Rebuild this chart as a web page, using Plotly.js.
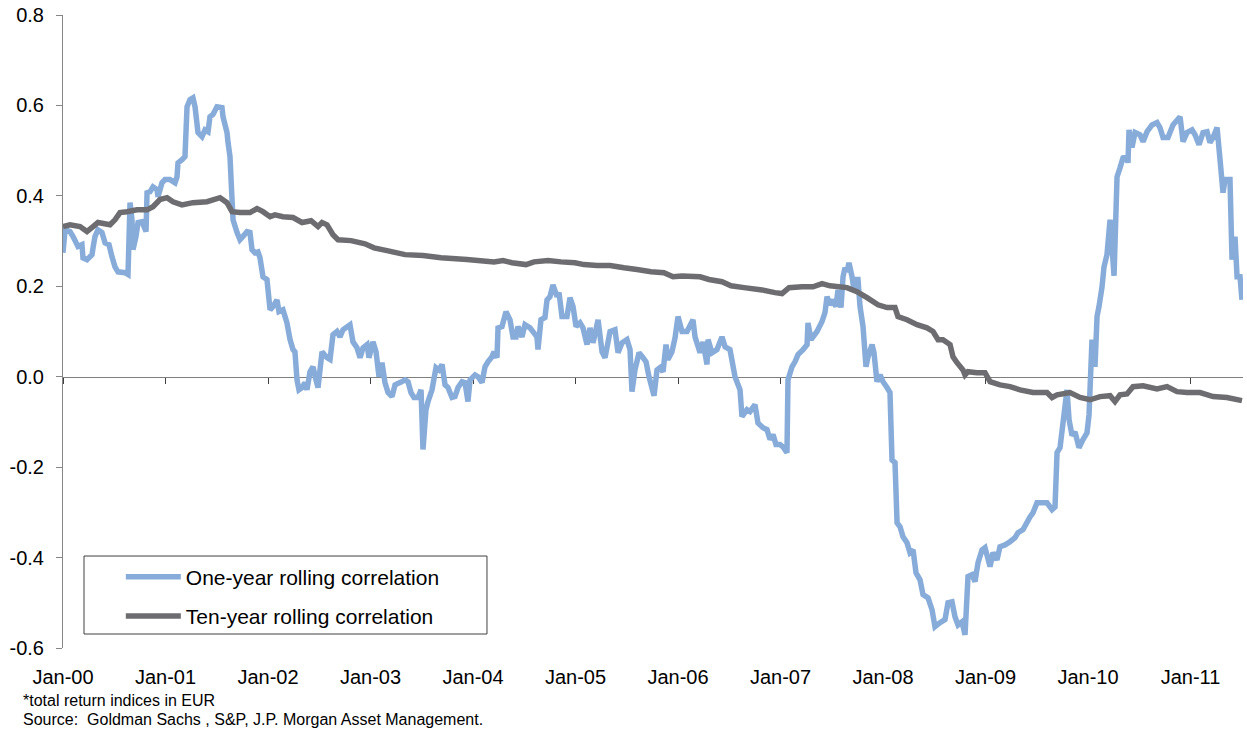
<!DOCTYPE html>
<html>
<head>
<meta charset="utf-8">
<script src="https://cdn.plot.ly/plotly-3.0.1.min.js"></script>
<style>html,body{margin:0;padding:0;background:#fff;}#chart{width:1247px;height:732px;}</style>
</head>
<body>
<div id="chart"></div>
<script>
// Time in decimal years
var oneYearT = [2000.000,2000.020,2000.068,2000.098,2000.146,2000.185,2000.195,2000.234,2000.283,2000.293,2000.312,2000.341,2000.380,2000.410,2000.449,2000.478,2000.507,2000.537,2000.605,2000.634,2000.654,2000.673,2000.683,2000.712,2000.732,2000.771,2000.810,2000.820,2000.849,2000.878,2000.917,2000.927,2000.966,2000.995,2001.044,2001.093,2001.112,2001.122,2001.161,2001.190,2001.210,2001.239,2001.268,2001.288,2001.317,2001.356,2001.385,2001.415,2001.434,2001.463,2001.502,2001.551,2001.561,2001.600,2001.610,2001.629,2001.649,2001.659,2001.698,2001.727,2001.756,2001.795,2001.824,2001.844,2001.873,2001.902,2001.922,2001.951,2001.990,2002.020,2002.049,2002.088,2002.107,2002.146,2002.185,2002.215,2002.244,2002.263,2002.283,2002.302,2002.332,2002.361,2002.380,2002.410,2002.439,2002.468,2002.488,2002.527,2002.576,2002.605,2002.634,2002.673,2002.702,2002.732,2002.800,2002.829,2002.868,2002.898,2002.927,2002.966,2002.985,2003.024,2003.054,2003.083,2003.112,2003.141,2003.171,2003.210,2003.239,2003.288,2003.337,2003.366,2003.395,2003.424,2003.463,2003.493,2003.512,2003.541,2003.561,2003.600,2003.639,2003.668,2003.698,2003.727,2003.756,2003.795,2003.824,2003.854,2003.893,2003.922,2003.951,2003.971,2004.020,2004.049,2004.088,2004.117,2004.146,2004.185,2004.205,2004.234,2004.244,2004.283,2004.322,2004.361,2004.390,2004.420,2004.439,2004.478,2004.507,2004.556,2004.624,2004.634,2004.663,2004.702,2004.722,2004.751,2004.780,2004.820,2004.839,2004.868,2004.917,2004.946,2004.976,2005.005,2005.044,2005.073,2005.112,2005.141,2005.171,2005.220,2005.259,2005.288,2005.337,2005.385,2005.415,2005.454,2005.502,2005.532,2005.551,2005.580,2005.620,2005.659,2005.688,2005.717,2005.766,2005.795,2005.824,2005.854,2005.883,2005.902,2005.941,2005.971,2006.000,2006.039,2006.088,2006.146,2006.166,2006.215,2006.244,2006.283,2006.293,2006.332,2006.380,2006.429,2006.459,2006.507,2006.556,2006.605,2006.624,2006.673,2006.702,2006.751,2006.780,2006.829,2006.868,2006.898,2006.927,2006.956,2006.995,2007.024,2007.063,2007.073,2007.112,2007.141,2007.171,2007.220,2007.259,2007.268,2007.298,2007.317,2007.356,2007.405,2007.434,2007.454,2007.483,2007.512,2007.541,2007.561,2007.590,2007.610,2007.629,2007.649,2007.668,2007.698,2007.717,2007.737,2007.756,2007.776,2007.805,2007.834,2007.854,2007.893,2007.912,2007.941,2007.971,2008.000,2008.039,2008.068,2008.088,2008.117,2008.137,2008.166,2008.195,2008.234,2008.263,2008.293,2008.322,2008.361,2008.390,2008.439,2008.478,2008.507,2008.556,2008.605,2008.634,2008.673,2008.702,2008.732,2008.771,2008.800,2008.829,2008.868,2008.898,2008.927,2008.966,2008.995,2009.044,2009.073,2009.112,2009.141,2009.190,2009.239,2009.288,2009.317,2009.366,2009.434,2009.463,2009.502,2009.532,2009.600,2009.649,2009.678,2009.698,2009.727,2009.756,2009.795,2009.815,2009.844,2009.873,2009.912,2009.951,2009.990,2010.010,2010.039,2010.068,2010.088,2010.107,2010.137,2010.156,2010.185,2010.215,2010.254,2010.283,2010.312,2010.341,2010.380,2010.390,2010.400,2010.429,2010.459,2010.507,2010.537,2010.576,2010.624,2010.673,2010.702,2010.732,2010.780,2010.829,2010.898,2010.927,2010.966,2011.015,2011.044,2011.083,2011.122,2011.161,2011.190,2011.220,2011.259,2011.288,2011.317,2011.337,2011.385,2011.405,2011.434,2011.454,2011.483,2011.502];
var oneYearV = [0.274,0.325,0.321,0.310,0.288,0.292,0.263,0.259,0.270,0.285,0.310,0.325,0.319,0.296,0.292,0.265,0.243,0.232,0.230,0.226,0.385,0.347,0.281,0.310,0.341,0.343,0.321,0.407,0.409,0.420,0.414,0.398,0.429,0.436,0.436,0.429,0.442,0.473,0.480,0.487,0.597,0.613,0.617,0.597,0.540,0.531,0.546,0.542,0.575,0.580,0.597,0.595,0.575,0.540,0.518,0.487,0.392,0.347,0.319,0.303,0.310,0.321,0.319,0.281,0.274,0.276,0.263,0.221,0.215,0.148,0.155,0.170,0.144,0.148,0.119,0.082,0.060,0.055,-0.007,-0.029,-0.024,-0.013,-0.029,0.011,0.022,-0.007,-0.024,0.055,0.042,0.038,0.093,0.100,0.088,0.104,0.115,0.077,0.064,0.042,0.064,0.071,0.042,0.077,0.055,0.000,0.031,-0.013,-0.035,-0.044,-0.018,-0.013,-0.007,-0.011,-0.035,-0.046,-0.046,-0.029,-0.161,-0.073,-0.055,-0.029,0.020,0.015,0.027,-0.018,-0.024,-0.046,-0.044,-0.024,-0.011,-0.013,-0.055,-0.007,0.004,0.000,-0.013,0.022,0.033,0.044,0.055,0.042,0.108,0.111,0.144,0.126,0.088,0.088,0.111,0.088,0.115,0.108,0.088,0.060,0.126,0.131,0.170,0.177,0.203,0.177,0.186,0.133,0.133,0.175,0.155,0.111,0.119,0.108,0.071,0.108,0.075,0.126,0.055,0.042,0.100,0.104,0.053,0.075,0.082,0.060,-0.033,0.015,0.053,0.042,0.033,0.000,-0.042,0.015,0.020,0.011,0.071,0.038,0.055,0.086,0.133,0.100,0.100,0.126,0.088,0.053,0.077,0.027,0.082,0.053,0.060,0.088,0.066,0.060,0.000,-0.029,-0.088,-0.073,-0.077,-0.062,-0.102,-0.113,-0.117,-0.139,-0.128,-0.150,-0.150,-0.155,-0.168,-0.007,0.022,0.033,0.049,0.060,0.071,0.119,0.082,0.088,0.100,0.122,0.142,0.177,0.159,0.170,0.155,0.192,0.153,0.221,0.241,0.232,0.252,0.221,0.192,0.215,0.215,0.155,0.111,0.022,0.044,0.071,0.053,-0.011,0.004,-0.011,-0.024,-0.035,-0.184,-0.190,-0.323,-0.332,-0.354,-0.367,-0.389,-0.383,-0.434,-0.449,-0.482,-0.489,-0.515,-0.553,-0.544,-0.537,-0.500,-0.498,-0.531,-0.549,-0.542,-0.571,-0.442,-0.438,-0.453,-0.411,-0.383,-0.378,-0.420,-0.389,-0.405,-0.376,-0.372,-0.365,-0.356,-0.345,-0.338,-0.310,-0.301,-0.279,-0.279,-0.279,-0.294,-0.288,-0.168,-0.157,-0.102,-0.029,-0.095,-0.130,-0.122,-0.157,-0.139,-0.124,-0.084,0.082,0.022,0.133,0.155,0.199,0.243,0.270,0.347,0.223,0.442,0.462,0.484,0.487,0.473,0.546,0.507,0.540,0.535,0.520,0.542,0.557,0.562,0.551,0.529,0.529,0.557,0.575,0.520,0.540,0.546,0.535,0.513,0.540,0.542,0.518,0.529,0.551,0.480,0.407,0.436,0.436,0.259,0.310,0.221,0.221,0.170];

var tenYearT = [2000.000,2000.068,2000.166,2000.234,2000.293,2000.341,2000.459,2000.507,2000.556,2000.624,2000.722,2000.820,2000.878,2000.946,2001.015,2001.073,2001.161,2001.268,2001.405,2001.532,2001.600,2001.649,2001.727,2001.824,2001.893,2001.951,2002.020,2002.068,2002.146,2002.244,2002.332,2002.420,2002.488,2002.527,2002.576,2002.634,2002.683,2002.810,2002.946,2003.034,2003.161,2003.337,2003.512,2003.688,2003.941,2004.205,2004.293,2004.380,2004.517,2004.595,2004.732,2004.859,2004.995,2005.083,2005.210,2005.337,2005.473,2005.600,2005.737,2005.863,2005.951,2006.039,2006.215,2006.302,2006.429,2006.517,2006.644,2006.820,2006.946,2007.015,2007.083,2007.210,2007.317,2007.405,2007.483,2007.649,2007.746,2007.844,2007.951,2008.039,2008.117,2008.146,2008.234,2008.332,2008.429,2008.488,2008.537,2008.585,2008.654,2008.683,2008.722,2008.780,2008.800,2008.829,2008.917,2008.995,2009.044,2009.141,2009.239,2009.337,2009.463,2009.600,2009.649,2009.698,2009.824,2009.922,2010.020,2010.117,2010.215,2010.263,2010.312,2010.380,2010.439,2010.537,2010.673,2010.771,2010.868,2010.966,2011.093,2011.220,2011.356,2011.502];
var tenYearV = [0.332,0.336,0.332,0.321,0.332,0.341,0.336,0.347,0.363,0.365,0.369,0.369,0.376,0.392,0.396,0.387,0.380,0.385,0.387,0.396,0.385,0.365,0.363,0.363,0.372,0.365,0.354,0.358,0.354,0.352,0.341,0.345,0.332,0.341,0.336,0.314,0.303,0.301,0.294,0.285,0.279,0.270,0.268,0.263,0.259,0.254,0.257,0.252,0.248,0.254,0.257,0.254,0.252,0.248,0.246,0.246,0.241,0.237,0.232,0.230,0.221,0.223,0.221,0.215,0.210,0.201,0.197,0.192,0.186,0.184,0.197,0.199,0.199,0.206,0.201,0.197,0.188,0.175,0.159,0.153,0.153,0.133,0.126,0.115,0.108,0.100,0.082,0.082,0.071,0.044,0.031,0.015,0.004,0.011,0.009,0.009,-0.011,-0.018,-0.022,-0.029,-0.035,-0.035,-0.046,-0.040,-0.035,-0.046,-0.051,-0.044,-0.042,-0.055,-0.040,-0.038,-0.022,-0.020,-0.027,-0.022,-0.033,-0.035,-0.035,-0.044,-0.046,-0.053];

var xTickVals = [2000,2001,2002,2003,2004,2005,2006,2007,2008,2009,2010,2011];
var xTickText = ["Jan-00","Jan-01","Jan-02","Jan-03","Jan-04","Jan-05","Jan-06","Jan-07","Jan-08","Jan-09","Jan-10","Jan-11"];
var yTickVals = [-0.6,-0.4,-0.2,0,0.2,0.4,0.6,0.8];
var yTickText = ["-0.6","-0.4","-0.2","0.0","0.2","0.4","0.6","0.8"];
var seriesNames = ["One-year rolling correlation","Ten-year rolling correlation"];
var footnotes = ["*total return indices in EUR","Source:  Goldman Sachs , S&P, J.P. Morgan Asset Management."];

var FONT = '"Liberation Sans", Arial, sans-serif';
var xRange = [2000, 2011.512];
var yRange = [-0.6, 0.8];
var zeroPos = (0 - yRange[0]) / (yRange[1] - yRange[0]);

var traces = [
  {x: oneYearT, y: oneYearV, type: 'scatter', mode: 'lines', name: seriesNames[0],
   legendgroup: 'a', line: {color: '#88ACD9', width: 5.5, simplify: false}, xaxis: 'x', yaxis: 'y', hoverinfo: 'x+y'},
  {x: tenYearT, y: tenYearV, type: 'scatter', mode: 'lines', name: seriesNames[1],
   legendgroup: 'b', line: {color: '#6D6D71', width: 5.5, simplify: false}, xaxis: 'x2', yaxis: 'y', hoverinfo: 'x+y'}
];

var layout = {
  width: 1247, height: 732,
  margin: {l: 63, r: 4, t: 15, b: 84},
  paper_bgcolor: '#ffffff', plot_bgcolor: '#ffffff',
  font: {family: FONT, color: '#000000', size: 20},
  showlegend: true,
  xaxis: {
    range: xRange, tickvals: xTickVals, ticktext: xTickText,
    showline: false, ticks: '', showgrid: false, zeroline: false,
    tickfont: {family: FONT, size: 20, color: '#000'},
    ticklabelstandoff: 15, fixedrange: true
  },
  xaxis2: {
    overlaying: 'x', anchor: 'free', position: zeroPos, side: 'bottom',
    range: xRange, tickvals: xTickVals, showticklabels: false,
    showline: true, linecolor: '#7f7f7f', linewidth: 1,
    ticks: 'outside', ticklen: 6, tickwidth: 1, tickcolor: '#404040',
    showgrid: false, zeroline: false, layer: 'below traces', fixedrange: true
  },
  yaxis: {
    range: yRange, tickvals: yTickVals, ticktext: yTickText,
    showline: true, linecolor: '#868686', linewidth: 1,
    ticks: 'outside', ticklen: 6, tickwidth: 1, tickcolor: '#868686',
    showgrid: false, zeroline: false,
    tickfont: {family: FONT, size: 20, color: '#000'},
    ticklabelstandoff: 8, fixedrange: true
  },
  legend: {
    x: 0.049, y: 0.1445, xanchor: 'left', yanchor: 'top',
    bgcolor: 'rgba(0,0,0,0)', borderwidth: 0,
    font: {family: FONT, size: 21, color: '#000'},
    itemwidth: 55, tracegroupgap: 9, traceorder: 'grouped'
  },
  shapes: [
    {type: 'rect', xref: 'paper', yref: 'paper', x0: 0.0178, x1: 0.3593, y0: 0.0221, y1: 0.1453,
     line: {color: '#404040', width: 1}, fillcolor: 'rgba(0,0,0,0)', layer: 'above'}
  ],
  annotations: [
    {text: footnotes[0], xref: 'paper', yref: 'paper', x: -0.0356, y: -0.0837, xanchor: 'left', yanchor: 'middle',
     showarrow: false, font: {family: FONT, size: 16, color: '#000'}},
    {text: footnotes[1], xref: 'paper', yref: 'paper', x: -0.0356, y: -0.113, xanchor: 'left', yanchor: 'middle',
     showarrow: false, font: {family: FONT, size: 16, color: '#000'}}
  ]
};

Plotly.newPlot('chart', traces, layout, {staticPlot: true, displayModeBar: false});
</script>
</body>
</html>
